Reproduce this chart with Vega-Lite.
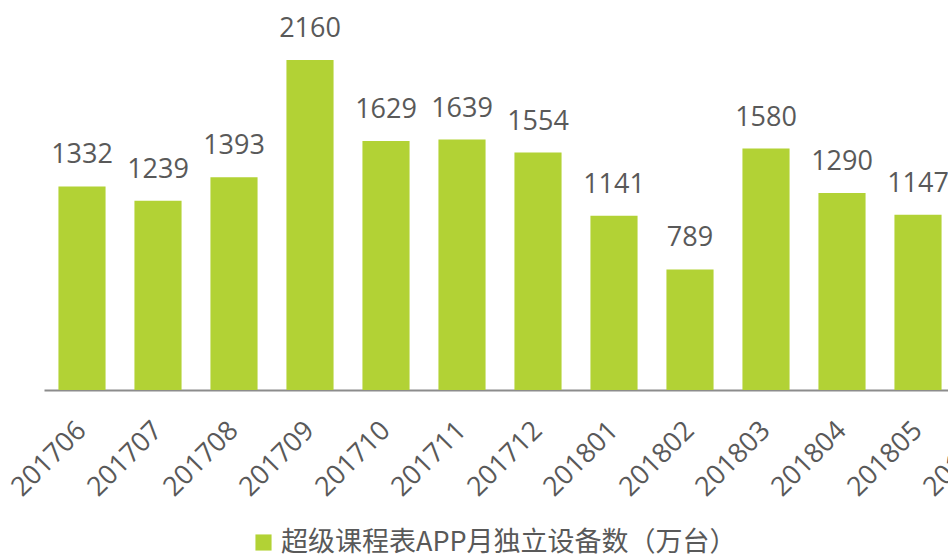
{
  "$schema": "https://vega.github.io/schema/vega-lite/v6.json",
  "autosize": {"type": "none"},
  "padding": {"left": 44, "top": 8, "right": 0, "bottom": 167},
  "width": 904,
  "height": 382,
  "background": "white",
  "data": {
    "values": [
      {"month": "201706", "value": 1332, "series": "超级课程表APP月独立设备数（万台）"},
      {"month": "201707", "value": 1239, "series": "超级课程表APP月独立设备数（万台）"},
      {"month": "201708", "value": 1393, "series": "超级课程表APP月独立设备数（万台）"},
      {"month": "201709", "value": 2160, "series": "超级课程表APP月独立设备数（万台）"},
      {"month": "201710", "value": 1629, "series": "超级课程表APP月独立设备数（万台）"},
      {"month": "201711", "value": 1639, "series": "超级课程表APP月独立设备数（万台）"},
      {"month": "201712", "value": 1554, "series": "超级课程表APP月独立设备数（万台）"},
      {"month": "201801", "value": 1141, "series": "超级课程表APP月独立设备数（万台）"},
      {"month": "201802", "value": 789, "series": "超级课程表APP月独立设备数（万台）"},
      {"month": "201803", "value": 1580, "series": "超级课程表APP月独立设备数（万台）"},
      {"month": "201804", "value": 1290, "series": "超级课程表APP月独立设备数（万台）"},
      {"month": "201805", "value": 1147, "series": "超级课程表APP月独立设备数（万台）"},
      {"month": "201806", "value": 1200, "series": "超级课程表APP月独立设备数（万台）"}
    ]
  },
  "encoding": {
    "x": {
      "field": "month",
      "type": "ordinal",
      "sort": null,
      "scale": {"range": [0, 988], "paddingInner": 0.38, "paddingOuter": 0.19},
      "axis": {
        "title": null,
        "labelAngle": -45,
        "labelAlign": "right",
        "labelBaseline": "middle",
        "labelFont": "Open Sans",
        "labelFontSize": 27,
        "labelColor": "#595959",
        "labelPadding": 36,
        "ticks": false,
        "domainColor": "#8c8c8c",
        "domainWidth": 2,
        "grid": false,
        "labelOverlap": false
      }
    },
    "y": {
      "field": "value",
      "type": "quantitative",
      "scale": {"domain": [0, 2500], "nice": false},
      "axis": null
    }
  },
  "layer": [
    {
      "mark": {"type": "bar", "clip": false},
      "encoding": {
        "color": {
          "field": "series",
          "type": "nominal",
          "scale": {"range": ["#B2D235"]},
          "legend": {
            "title": null,
            "orient": "none",
            "legendX": 206,
            "legendY": 521,
            "symbolType": "square",
            "symbolSize": 260,
            "symbolStrokeWidth": 0,
            "labelFont": "Noto Sans CJK SC",
            "labelFontSize": 27,
            "labelColor": "#595959",
            "labelLimit": 700,
            "labelOffset": 4
          }
        }
      }
    },
    {
      "mark": {"type": "text", "baseline": "alphabetic", "dy": -23, "font": "Open Sans", "fontSize": 27, "color": "#595959", "clip": false},
      "encoding": {
        "text": {"field": "value", "type": "quantitative", "format": "d"}
      }
    }
  ],
  "config": {"view": {"stroke": null}}
}
